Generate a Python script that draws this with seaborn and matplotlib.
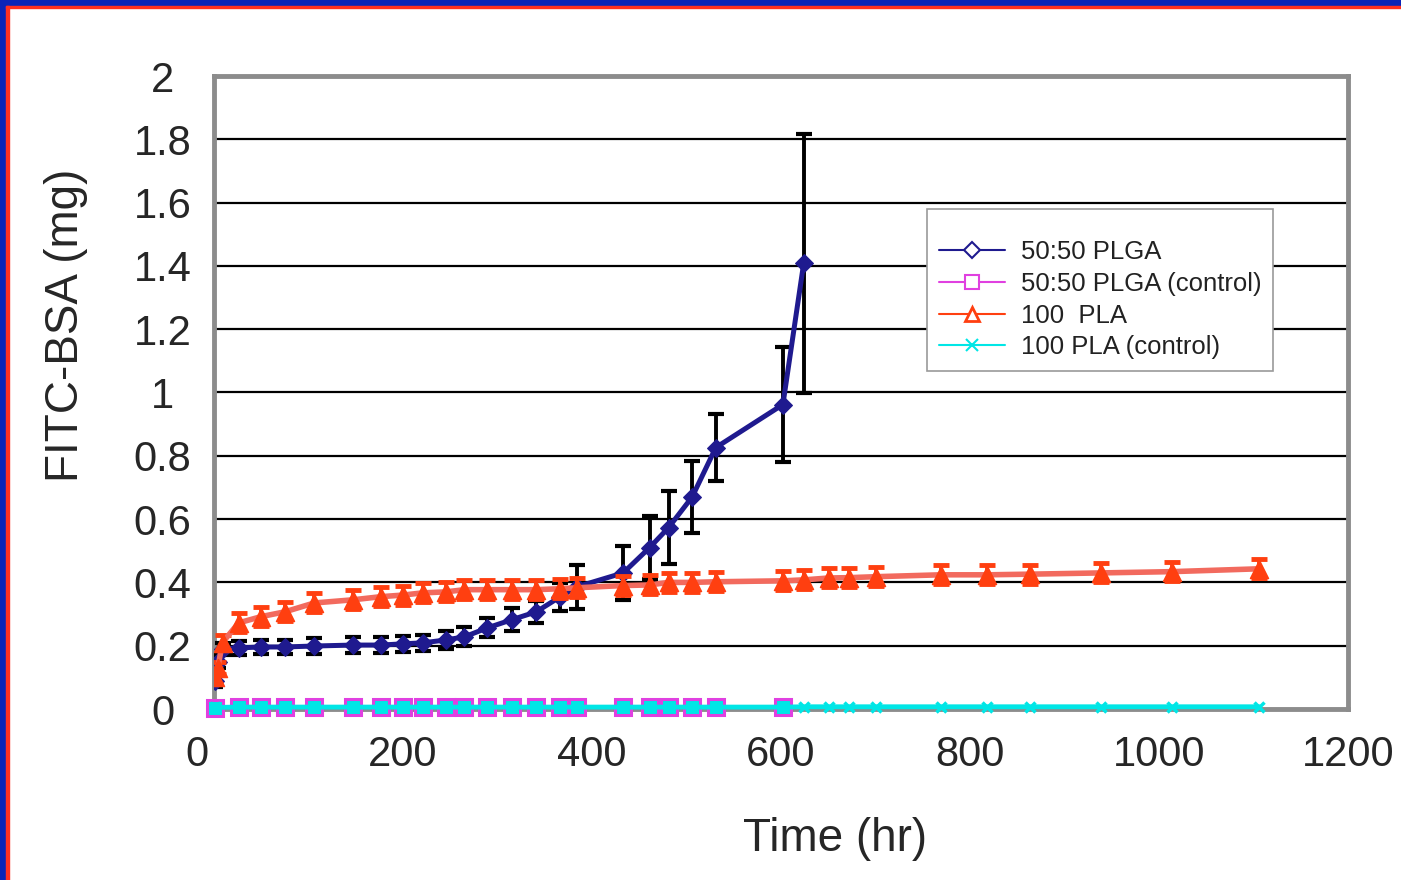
import matplotlib
matplotlib.use('Agg')
import matplotlib.pyplot as plt
from matplotlib.lines import Line2D
from matplotlib.patches import Rectangle
from matplotlib.transforms import ScaledTranslation
import seaborn as sns

# data (time in hours, FITC-BSA in mg)
t_plga = [1, 4, 9, 26, 50, 75, 106, 147, 177, 200, 221, 245, 265, 289, 315,
          341, 366, 384, 433, 461, 481, 506, 531, 602, 624]
plga = [0.09, 0.15, 0.19, 0.193, 0.196, 0.196, 0.199, 0.202, 0.202, 0.206,
        0.209, 0.218, 0.228, 0.256, 0.282, 0.307, 0.354, 0.386, 0.43, 0.51,
        0.573, 0.67, 0.826, 0.962, 1.408]
plga_err = [0.02, 0.02, 0.02, 0.022, 0.022, 0.022, 0.025, 0.025, 0.025, 0.025,
            0.025, 0.028, 0.03, 0.03, 0.037, 0.035, 0.045, 0.07, 0.085, 0.1,
            0.115, 0.115, 0.105, 0.183, 0.41]

t_pla = [1, 4, 9, 26, 50, 75, 106, 147, 177, 200, 221, 245, 265, 289, 315,
         341, 366, 384, 433, 461, 481, 506, 531, 602, 624, 651, 672, 700,
         769, 818, 863, 939, 1014, 1106]
pla = [0.10, 0.13, 0.21, 0.272, 0.292, 0.307, 0.335, 0.345, 0.355, 0.36,
       0.367, 0.37, 0.377, 0.377, 0.377, 0.377, 0.38, 0.383, 0.39, 0.392,
       0.40, 0.40, 0.402, 0.405, 0.408, 0.414, 0.415, 0.418, 0.424, 0.424,
       0.426, 0.43, 0.434, 0.443]
pla_err = [0.02, 0.02, 0.025, 0.03, 0.03, 0.03, 0.03, 0.03, 0.03, 0.03,
           0.03, 0.03, 0.03, 0.03, 0.03, 0.03, 0.03, 0.03, 0.03, 0.03,
           0.03, 0.03, 0.03, 0.03, 0.03, 0.03, 0.03, 0.03, 0.03, 0.03,
           0.03, 0.03, 0.03, 0.03]

t_plga_ctrl = [1, 26, 50, 75, 106, 147, 177, 200, 221, 245, 265, 289, 315,
               341, 366, 384, 433, 461, 481, 506, 531, 602]
plga_ctrl = [0.004, 0.005, 0.005, 0.005, 0.005, 0.005, 0.005, 0.005, 0.005,
             0.005, 0.005, 0.005, 0.005, 0.005, 0.005, 0.005, 0.005, 0.005,
             0.005, 0.005, 0.005, 0.005]

t_pla_ctrl = [1, 26, 50, 75, 106, 147, 177, 200, 221, 245, 265, 289, 315,
              341, 366, 384, 433, 461, 481, 506, 531, 602, 624, 651, 672,
              700, 769, 818, 863, 939, 1014, 1106]
pla_ctrl = [0.005, 0.006, 0.006, 0.006, 0.006, 0.006, 0.006, 0.006, 0.006,
            0.006, 0.006, 0.006, 0.006, 0.006, 0.006, 0.006, 0.006, 0.006,
            0.006, 0.006, 0.006, 0.006, 0.007, 0.007, 0.007, 0.007, 0.007,
            0.007, 0.007, 0.007, 0.007, 0.007]

labels = ['50:50 PLGA', '50:50 PLGA (control)', '100  PLA', '100 PLA (control)']
x_ticks = [0, 200, 400, 600, 800, 1000, 1200]
y_ticks = [0, 0.2, 0.4, 0.6, 0.8, 1, 1.2, 1.4, 1.6, 1.8, 2]
y_tick_labels = ['0', '0.2', '0.4', '0.6', '0.8', '1', '1.2', '1.4', '1.6', '1.8', '2']

navy = '#1f1a8f'
red = '#ff3f10'
salmon = '#f26a5e'
magenta = '#e040e0'
cyan = '#00e6e6'

sns.set_style('white')
plt.rcParams['font.family'] = ['Liberation Sans', 'DejaVu Sans']

fig = plt.figure(figsize=(14.01, 8.8), dpi=100)
ax = fig.add_axes([214 / 1401, 1 - 709 / 880, 1134 / 1401, 633 / 880])

# 50:50 PLGA with black error bars
ax.errorbar(t_plga, plga, yerr=plga_err, fmt='none', ecolor='black',
            elinewidth=2.8, capsize=6, capthick=3, zorder=3)
sns.lineplot(x=t_plga, y=plga, ax=ax, color=navy, linewidth=3.6, marker='D',
             markersize=9.5, markeredgecolor=navy, errorbar=None, zorder=4)

# 100 PLA with red error bars
ax.errorbar(t_pla, pla, yerr=pla_err, fmt='none', ecolor=red,
            elinewidth=2.8, capsize=6, capthick=3.5, zorder=5)
sns.lineplot(x=t_pla, y=pla, ax=ax, color=salmon, linewidth=4, errorbar=None,
             zorder=5)
sns.scatterplot(x=t_pla, y=pla, ax=ax, color=red, marker='^', s=170,
                edgecolor=red, linewidth=1, zorder=6)

# controls (markers drawn over the axis line, not clipped)
sns.lineplot(x=t_plga_ctrl, y=plga_ctrl, ax=ax, color=magenta, linewidth=2,
             marker='s', markersize=11, markerfacecolor=cyan,
             markeredgecolor=magenta, markeredgewidth=2.2, errorbar=None,
             zorder=6, clip_on=False)
sns.lineplot(x=t_pla_ctrl, y=pla_ctrl, ax=ax, color=cyan, linewidth=3.5,
             marker='x', markersize=7, markeredgecolor=cyan,
             markeredgewidth=2.5, errorbar=None, zorder=7, clip_on=False)

ax.set_xlim(0, 1200)
ax.set_ylim(0, 2)
ax.set_xticks(x_ticks)
ax.set_yticks(y_ticks)
ax.set_yticklabels(y_tick_labels)
ax.grid(axis='y', color='black', linewidth=1.6)
ax.grid(axis='x', visible=False)
ax.set_axisbelow(True)
for side in ['left', 'right', 'top', 'bottom']:
    ax.spines[side].set_color('#8c8c8c')
    ax.spines[side].set_linewidth(3.5)
    ax.spines[side].set_zorder(2)

ax.tick_params(axis='x', length=0, pad=19, labelsize=30)
ax.tick_params(axis='y', length=3, width=2, color='black', direction='out',
               pad=34, labelsize=30)
for lab in ax.get_yticklabels():
    lab.set_horizontalalignment('center')
# the "0" under the origin sits a little to the left in the original
lab0 = ax.get_xticklabels()[0]
lab0.set_transform(lab0.get_transform() +
                   ScaledTranslation(-0.17, 0, fig.dpi_scale_trans))

ax.set_xlabel('Time (hr)', fontsize=33, labelpad=30)
ax.xaxis.label.set_x((835 - 214) / 1134)
ax.set_ylabel('FITC-BSA (mg)', fontsize=33)
ax.yaxis.set_label_coords((88 - 214) / 1134, (709 - 325) / 633)

handles = [
    Line2D([], [], color=navy, lw=1.5, marker='D', markersize=8,
           markerfacecolor='white', markeredgecolor=navy, markeredgewidth=1.5),
    Line2D([], [], color=magenta, lw=1.5, marker='s', markersize=10,
           markerfacecolor='white', markeredgecolor=magenta, markeredgewidth=1.5),
    Line2D([], [], color=red, lw=1.5, marker='^', markersize=10,
           markerfacecolor='white', markeredgecolor=red, markeredgewidth=2),
    Line2D([], [], color=cyan, lw=1.5, marker='x', markersize=8,
           markeredgecolor=cyan, markeredgewidth=1.5),
]
leg = ax.legend(handles, labels, loc='upper left',
                bbox_to_anchor=((927 - 214) / 1134, (709 - 209) / 633),
                fontsize=18.5, frameon=True, fancybox=False, framealpha=1,
                edgecolor='#9a9a9a', borderpad=0.45, labelspacing=0.3,
                handlelength=2.6, handletextpad=0.6, borderaxespad=0,
                title=' ', title_fontsize=9)
leg.get_frame().set_linewidth(1.2)
for txt in leg.get_texts():
    txt.set_color('#222222')

# slide border: blue bands with a thin red line on the left and top
blue = '#0a24b8'
fig.add_artist(Rectangle((0, 0), 6 / 1401, 1, transform=fig.transFigure,
                         color=blue, zorder=10))
fig.add_artist(Rectangle((0, 1 - 6 / 880), 1, 6 / 880, transform=fig.transFigure,
                         color=blue, zorder=10))
fig.add_artist(Rectangle((6 / 1401, 0), 2.5 / 1401, 1 - 6 / 880,
                         transform=fig.transFigure, color='#ff3020', zorder=10))
fig.add_artist(Rectangle((6 / 1401, 1 - 8.5 / 880), 1, 2.5 / 880,
                         transform=fig.transFigure, color='#ff3020', zorder=10))

fig.savefig('out.png', dpi=100)
plt.close(fig)
